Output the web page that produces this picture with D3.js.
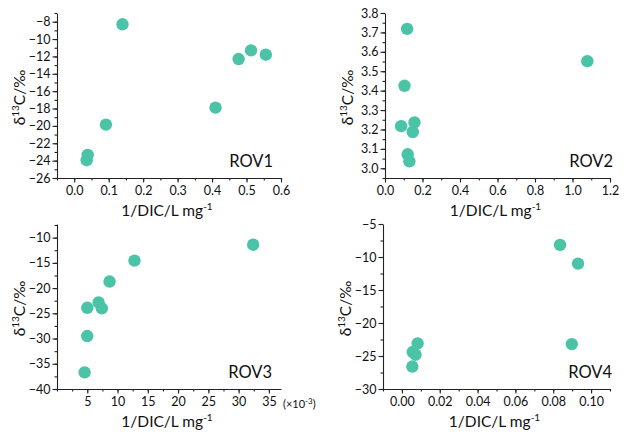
<!DOCTYPE html>
<html>
<head>
<meta charset="utf-8">
<script src="https://cdn.jsdelivr.net/npm/d3@7"></script>
<style>
  body { margin: 0; background: #fff; }
  svg text { font-family: Lato, "Open Sans", sans-serif; fill: #111; }
</style>
</head>
<body>
<div class="canvas"></div>
<script>
// data
const rov1X = [0.14, 0.477, 0.513, 0.556, 0.41, 0.092, 0.039, 0.036];
const rov1Y = [-8.3, -12.3, -11.3, -11.8, -17.9, -19.85, -23.35, -23.95];
const rov2X = [0.118, 1.079, 0.104, 0.086, 0.157, 0.148, 0.121, 0.130];
const rov2Y = [3.718, 3.552, 3.425, 3.217, 3.236, 3.187, 3.072, 3.036];
const rov3X = [32.4, 12.8, 8.68, 6.87, 7.41, 5.0, 5.0, 4.56]; // x 10^-3
const rov3Y = [-11.4, -14.55, -18.7, -22.85, -24.0, -23.9, -29.5, -36.7];
const rov4X = [0.0836, 0.0931, 0.0898, 0.0083, 0.0057, 0.0072, 0.0055];
const rov4Y = [-8.18, -11.0, -23.2, -23.1, -24.4, -24.8, -26.6];

const rov1XTicks = [0.0, 0.1, 0.2, 0.3, 0.4, 0.5, 0.6];
const rov1YTicks = [-26, -24, -22, -20, -18, -16, -14, -12, -10, -8];
const rov2XTicks = [0.0, 0.2, 0.4, 0.6, 0.8, 1.0, 1.2];
const rov2YTicks = [3.0, 3.1, 3.2, 3.3, 3.4, 3.5, 3.6, 3.7, 3.8];
const rov3XTicks = [5, 10, 15, 20, 25, 30, 35];
const rov3YTicks = [-40, -35, -30, -25, -20, -15, -10];
const rov4XTicks = [0.00, 0.02, 0.04, 0.06, 0.08, 0.10];
const rov4YTicks = [-30, -25, -20, -15, -10, -5];

const dotColor = "#4bc3a7";

const svg = d3.select(".canvas").append("svg")
  .attr("width", 626)
  .attr("height", 434);

const panels = [
  { name: "ROV1", xs: rov1X, ys: rov1Y, left: 57, right: 281, top: 13, bottom: 178, labelX: 273,
    xDom: [-0.05, 0.6], yDom: [-26, -7], xTicks: rov1XTicks, yTicks: rov1YTicks,
    xMinor: 0.05, yMinor: 1, xFmt: d3.format(".1f"), yFmt: d3.format("d") },
  { name: "ROV2", xs: rov2X, ys: rov2Y, left: 385, right: 610, top: 13, bottom: 178, labelX: 613,
    xDom: [0, 1.2], yDom: [2.95, 3.8], xTicks: rov2XTicks, yTicks: rov2YTicks,
    xMinor: 0.1, yMinor: 0.05, xFmt: d3.format(".1f"), yFmt: d3.format(".1f") },
  { name: "ROV3", xs: rov3X, ys: rov3Y, left: 57, right: 281, top: 224, bottom: 389, labelX: 272,
    xDom: [0, 37], yDom: [-40, -7.3], xTicks: rov3XTicks, yTicks: rov3YTicks,
    xMinor: 2.5, yMinor: 2.5, xFmt: d3.format("d"), yFmt: d3.format("d") },
  { name: "ROV4", xs: rov4X, ys: rov4Y, left: 383, right: 610, top: 224, bottom: 389, labelX: 612,
    xDom: [-0.01, 0.11], yDom: [-30, -5], xTicks: rov4XTicks, yTicks: rov4YTicks,
    xMinor: 0.01, yMinor: 2.5, xFmt: d3.format(".2f"), yFmt: d3.format("d") }
];

function minorTicks(dom, step) {
  const out = [];
  const start = Math.ceil(dom[0] / step - 1e-9) * step;
  for (let v = start; v <= dom[1] + 1e-9; v += step) out.push(+v.toFixed(6));
  return out;
}

panels.forEach(p => {
  const x = d3.scaleLinear().domain(p.xDom).range([p.left, p.right]);
  const y = d3.scaleLinear().domain(p.yDom).range([p.bottom, p.top]);
  const g = svg.append("g");

  // minor ticks first
  g.append("g")
    .attr("transform", `translate(0,${p.bottom})`)
    .call(d3.axisBottom(x).tickValues(minorTicks(p.xDom, p.xMinor)).tickSize(2.5).tickFormat(""))
    .call(a => a.select(".domain").remove());
  g.append("g")
    .attr("transform", `translate(${p.left},0)`)
    .call(d3.axisLeft(y).tickValues(minorTicks(p.yDom, p.yMinor)).tickSize(2.5).tickFormat(""))
    .call(a => a.select(".domain").remove());

  const xAxisGroup = g.append("g")
    .attr("transform", `translate(0,${p.bottom})`)
    .call(d3.axisBottom(x).tickValues(p.xTicks).tickSize(4.5).tickSizeOuter(0).tickPadding(4).tickFormat(p.xFmt));
  const yAxisGroup = g.append("g")
    .attr("transform", `translate(${p.left},0)`)
    .call(d3.axisLeft(y).tickValues(p.yTicks).tickSize(4.5).tickSizeOuter(0).tickPadding(2).tickFormat(p.yFmt));

  [xAxisGroup, yAxisGroup].forEach(a => {
    a.selectAll("text").style("font-size", "12.5px").attr("fill", "#111")
      .style("font-family", "Lato, 'Open Sans', sans-serif");
  });
  g.selectAll(".domain, line").attr("stroke", "#222").attr("stroke-width", 1.1);

  g.selectAll("circle")
    .data(p.xs.map((d, i) => [d, p.ys[i]]))
    .enter()
    .append("circle")
    .attr("cx", d => x(d[0]))
    .attr("cy", d => y(d[1]))
    .attr("r", 6.2)
    .attr("fill", dotColor);

  g.append("text")
    .attr("x", p.labelX)
    .attr("y", p.bottom - 11)
    .attr("text-anchor", "end")
    .style("font-size", "16.5px")
    .text(p.name);

  // x axis title
  const xt = g.append("text")
    .attr("x", (p.left + p.right) / 2 - 2)
    .attr("y", p.bottom + 38)
    .attr("text-anchor", "middle")
    .style("font-size", "15.5px");
  xt.append("tspan").text("1/DIC/L mg");
  xt.append("tspan").attr("dy", -6).style("font-size", "10px").text("-1");

  // y axis title
  const cy = (p.top + p.bottom) / 2 + 2;
  const yt = g.append("text")
    .attr("transform", `translate(${p.left - 32},${cy}) rotate(-90)`)
    .attr("text-anchor", "middle")
    .style("font-size", "15.5px");
  yt.append("tspan").text("δ");
  yt.append("tspan").attr("dy", -6).style("font-size", "10px").text("13");
  yt.append("tspan").attr("dy", 6).text("C/‰");
});

// multiplier note for ROV3
const m = svg.append("text")
  .attr("x", 283)
  .attr("y", 408)
  .style("font-size", "11px");
m.append("tspan").text("(×10");
m.append("tspan").attr("dy", -4).style("font-size", "8px").text("-3");
m.append("tspan").attr("dy", 4).text(")");
</script>
</body>
</html>
